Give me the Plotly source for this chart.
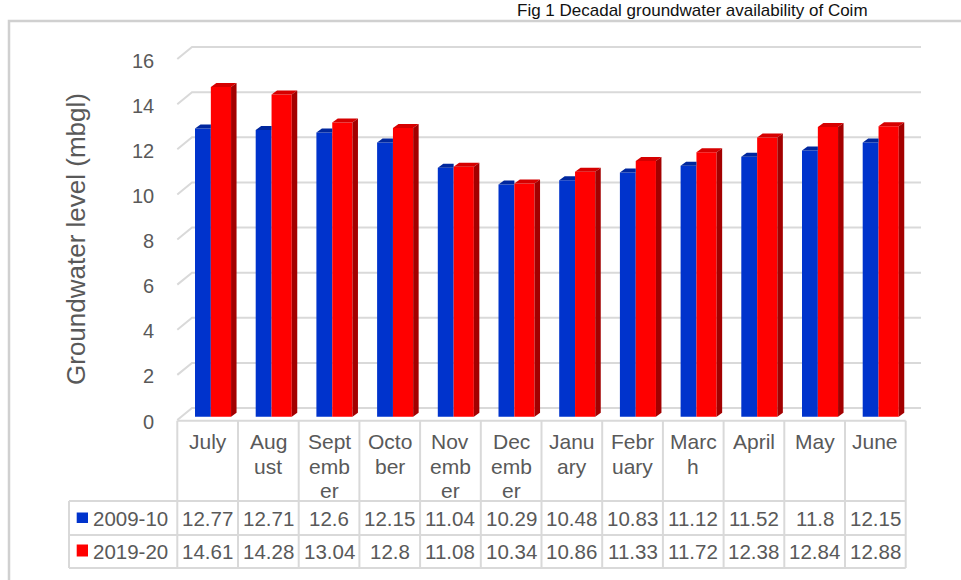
import plotly.graph_objects as go

# ---------------- data ----------------
months = ["July", "August", "September", "October", "November", "December",
          "January", "February", "March", "April", "May", "June"]
month_labels = ["July", "Aug<br>ust", "Sept<br>emb<br>er", "Octo<br>ber", "Nov<br>emb<br>er",
                "Dec<br>emb<br>er", "Janu<br>ary", "Febr<br>uary", "Marc<br>h", "April", "May", "June"]
series_names = ["2009-10", "2019-20"]
gw_2009_10 = [12.77, 12.71, 12.6, 12.15, 11.04, 10.29, 10.48, 10.83, 11.12, 11.52, 11.8, 12.15]
gw_2019_20 = [14.61, 14.28, 13.04, 12.8, 11.08, 10.34, 10.86, 11.33, 11.72, 12.38, 12.84, 12.88]
y_ticks = [0, 2, 4, 6, 8, 10, 12, 14, 16]
y_title = "Groundwater level (mbgl)"
title_text = "Fig 1 Decadal groundwater availability of Coim"

# ---------------- styling / geometry ----------------
W, H = 961, 580
COL0, COLW = 177.3, 60.7          # table column start / width (px)
BASE_PY, PXU = 416.7, 22.56       # bar base (px) and px per unit
X = lambda px: (px - (COL0 + COLW / 2)) / COLW
Y = lambda py: (BASE_PY - py) / PXU

BLUE, BLUE_TOP = "#0033CC", "#00279E"
RED, RED_TOP, RED_SIDE = "#FF0000", "#D60000", "#A30000"
GRID = "#D9D9D9"
TXT = "#595959"
FONT = "Liberation Sans, Arial, sans-serif"

b_off, b_w = -12.65 / COLW, 15.85 / COLW
r_off, r_w = 3.2 / COLW, 20.2 / COLW
dx, dy = 5.5 / COLW, 4.0 / PXU

xs = list(range(len(months)))

fig = go.Figure()
fig.add_trace(go.Bar(x=xs, y=gw_2009_10, offset=b_off, width=b_w, name=series_names[0],
                     marker=dict(color=BLUE, line=dict(width=0)), hoverinfo="skip"))
fig.add_trace(go.Bar(x=xs, y=gw_2019_20, offset=r_off, width=r_w, name=series_names[1],
                     marker=dict(color=RED, line=dict(width=0)), hoverinfo="skip"))

# 3D faces computed from the values
bt_x, bt_y, rt_x, rt_y, rs_x, rs_y = [], [], [], [], [], []
for i, (b, r) in enumerate(zip(gw_2009_10, gw_2019_20)):
    x0 = i + b_off
    x1 = i + r_off
    x2 = x1 + r_w
    bt_x += [x0, x0 + dx, x1, x1, x0, None]
    bt_y += [b, b + dy, b + dy, b, b, None]
    rt_x += [x1, x1 + dx, x2 + dx, x2, x1, None]
    rt_y += [r, r + dy, r + dy, r, r, None]
    rs_x += [x2, x2, x2 + dx, x2 + dx, x2, None]
    rs_y += [0, r, r + dy, dy, 0, None]

for fx, fy, col in [(bt_x, bt_y, BLUE_TOP), (rt_x, rt_y, RED_TOP), (rs_x, rs_y, RED_SIDE)]:
    fig.add_trace(go.Scatter(x=fx, y=fy, mode="lines", fill="toself", fillcolor=col,
                             line=dict(width=0, color=col), hoverinfo="skip", showlegend=False))

shapes = []
# gridlines with 3D wall offset
for v in y_ticks:
    xa, ya = X(177.3), Y(420 - PXU * v)
    xb, yb = X(192.0), Y(408 - PXU * v)
    xc = X(921.0)
    shapes.append(dict(type="path", xref="x", yref="y", layer="below",
                       path=f"M {xa},{ya} L {xb},{yb} L {xc},{yb}",
                       line=dict(color=GRID, width=2)))

# chart border
shapes.append(dict(type="rect", xref="x", yref="y", x0=X(9), x1=X(990), y0=Y(21), y1=Y(620),
                   line=dict(color="#D0D0D0", width=2.5), layer="below"))

# data table grid
tbl_left, tbl_right = 69, COL0 + COLW * len(months)
for py, xl in [(420.7, COL0), (501, tbl_left), (535, tbl_left), (568, tbl_left)]:
    shapes.append(dict(type="line", xref="x", yref="y", x0=X(xl), x1=X(tbl_right),
                       y0=Y(py), y1=Y(py), line=dict(color=GRID, width=2)))
shapes.append(dict(type="line", xref="x", yref="y", x0=X(tbl_left), x1=X(tbl_left),
                   y0=Y(501), y1=Y(568), line=dict(color=GRID, width=2)))
for k in range(len(months) + 1):
    px = COL0 + COLW * k
    shapes.append(dict(type="line", xref="x", yref="y", x0=X(px), x1=X(px),
                       y0=Y(420.7), y1=Y(568), line=dict(color=GRID, width=2)))

# legend keys in table
for (y0, y1), col in [((512.5, 523), BLUE), ((544.5, 556.5), RED)]:
    shapes.append(dict(type="rect", xref="x", yref="y", x0=X(76.7), x1=X(88), y0=Y(y0), y1=Y(y1),
                       fillcolor=col, line=dict(width=0)))

ann = []
# title (kept fully visible at the top)
ann.append(dict(x=X(692), y=Y(10), xref="x", yref="y", text=title_text, showarrow=False,
                xanchor="center", yanchor="middle", font=dict(family=FONT, size=17, color="#111111")))
# y axis title
ann.append(dict(x=X(76), y=Y(239), xref="x", yref="y", text=y_title, showarrow=False,
                textangle=-90, xanchor="center", yanchor="middle",
                font=dict(family=FONT, size=26, color=TXT)))
# y tick labels
for v in y_ticks:
    ann.append(dict(x=X(156), y=Y(421.5 - PXU * v), xref="x", yref="y", text=str(v),
                    showarrow=False, xanchor="right", yanchor="middle",
                    font=dict(family=FONT, size=20, color=TXT)))
# month labels (wrapped)
for i, lab in enumerate(month_labels):
    for j, part in enumerate(lab.split("<br>")):
        ann.append(dict(x=i, y=Y(441.7 + 24.3 * j), xref="x", yref="y", text=part,
                        showarrow=False, xanchor="center", yanchor="middle",
                        font=dict(family=FONT, size=21, color=TXT)))
# table values + series names
for vals, name, py in [(gw_2009_10, series_names[0], 518.2), (gw_2019_20, series_names[1], 551.7)]:
    ann.append(dict(x=X(90.5), y=Y(py), xref="x", yref="y", text=name, showarrow=False,
                    xanchor="left", yanchor="middle", font=dict(family=FONT, size=20.5, color=TXT)))
    for i, v in enumerate(vals):
        ann.append(dict(x=i, y=Y(py), xref="x", yref="y", text=f"{v:g}", showarrow=False,
                        xanchor="center", yanchor="middle",
                        font=dict(family=FONT, size=20.5, color=TXT)))

fig.update_layout(
    width=W, height=H, autosize=False,
    margin=dict(l=0, r=0, t=0, b=0, pad=0),
    paper_bgcolor="white", plot_bgcolor="white",
    barmode="overlay", showlegend=False,
    xaxis=dict(visible=False, range=[X(0), X(W)], fixedrange=True),
    yaxis=dict(visible=False, range=[Y(H), Y(0)], fixedrange=True),
    shapes=shapes, annotations=ann,
)

fig.write_html("out.html", config={"displayModeBar": False, "staticPlot": True},
               post_script="document.body.style.margin='0';")
